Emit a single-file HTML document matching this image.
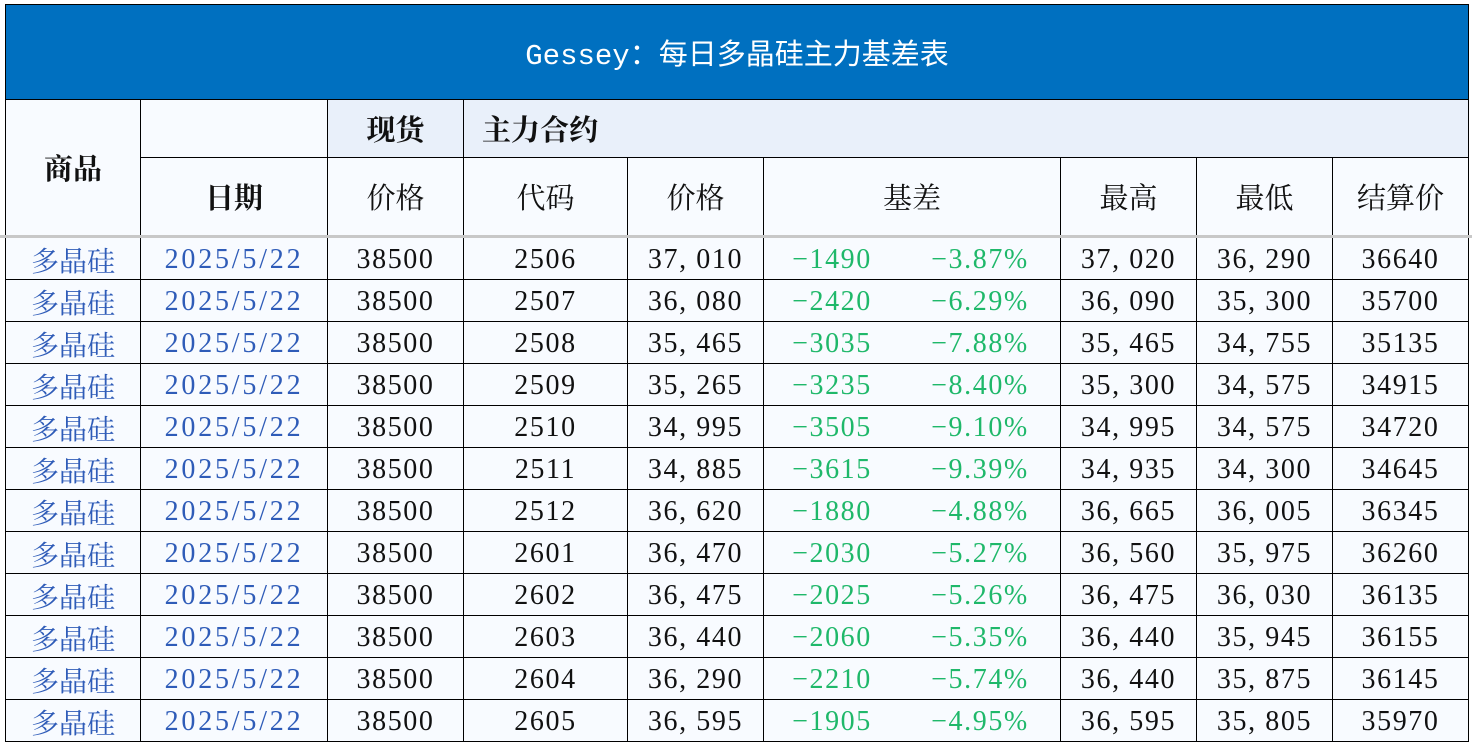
<!DOCTYPE html><html><head><meta charset="utf-8"><style>
body{margin:0;width:1472px;height:742px;background:#fff;position:relative;overflow:hidden;font-family:"Liberation Serif","Noto Serif CJK SC",serif}
.c{position:absolute;box-sizing:border-box;display:flex;align-items:center;justify-content:center;border-right:1px solid #000;border-bottom:1px solid #000;background:#f8fbff;font-size:28px;color:#111;white-space:nowrap;padding-top:2px}
.n{font-size:28px;letter-spacing:1.6px}
.dt{letter-spacing:2.8px}
.b{color:#2f5cb8}.g{color:#1fb86a}
.h{font-size:29px;padding-top:0}
</style></head><body>
<div style="position:absolute;left:5px;top:4px;width:1464px;height:96px;background:#0070c0;border:1px solid #000;box-sizing:border-box;display:flex;align-items:center;justify-content:center;color:#fff;font-size:29px;font-family:'Liberation Mono','Noto Sans CJK SC',monospace">Gessey：每日多晶硅主力基差表</div>
<div class="c h" style="left:5px;top:100px;width:136px;height:136px;border-left:1px solid #000;font-weight:bold">商品</div>
<div class="c" style="left:141px;top:100px;width:187px;height:58px"></div>
<div class="c h" style="left:328px;top:100px;width:136px;height:58px;background:#e9f0fa;font-weight:bold">现货</div>
<div class="c h" style="left:464px;top:100px;width:1005px;height:58px;background:#e9f0fa;font-weight:bold;justify-content:flex-start;padding-left:18px">主力合约</div>
<div class="c h" style="left:141px;top:158px;width:187px;height:78px;font-weight:bold">日期</div>
<div class="c h" style="left:328px;top:158px;width:136px;height:78px">价格</div>
<div class="c h" style="left:464px;top:158px;width:164px;height:78px">代码</div>
<div class="c h" style="left:628px;top:158px;width:136px;height:78px">价格</div>
<div class="c h" style="left:764px;top:158px;width:297px;height:78px">基差</div>
<div class="c h" style="left:1061px;top:158px;width:136px;height:78px">最高</div>
<div class="c h" style="left:1197px;top:158px;width:136px;height:78px">最低</div>
<div class="c h" style="left:1333px;top:158px;width:136px;height:78px">结算价</div>
<div style="position:absolute;left:0;top:235px;width:1472px;height:3px;background:#c8c8c8"></div>
<div id="d"></div>
<script>
var rows=[["2506","37,010","-1490","-3.87%","37,020","36,290","36640"],["2507","36,080","-2420","-6.29%","36,090","35,300","35700"],["2508","35,465","-3035","-7.88%","35,465","34,755","35135"],["2509","35,265","-3235","-8.40%","35,300","34,575","34915"],["2510","34,995","-3505","-9.10%","34,995","34,575","34720"],["2511","34,885","-3615","-9.39%","34,935","34,300","34645"],["2512","36,620","-1880","-4.88%","36,665","36,005","36345"],["2601","36,470","-2030","-5.27%","36,560","35,975","36260"],["2602","36,475","-2025","-5.26%","36,475","36,030","36135"],["2603","36,440","-2060","-5.35%","36,440","35,945","36155"],["2604","36,290","-2210","-5.74%","36,440","35,875","36145"],["2605","36,595","-1905","-4.95%","36,595","35,805","35970"]];
var xs=[5,141,328,464,628,764,900,1061,1197,1333,1469],h="";
function f(s){return s.replace(",",",&nbsp;").replace("-","−");}
rows.forEach(function(r,i){var t=238+42*i;var v=[["多晶硅","b"],["2025/5/22","b n dt"],["38500","n"],[r[0],"n"],[f(r[1]),"n"],[f(r[2]),"g n"],[f(r[3]),"g n"],[f(r[4]),"n"],[f(r[5]),"n"],[r[6],"n"]];
for(var j=0;j<10;j++){h+='<div class="c '+v[j][1]+'" style="left:'+xs[j]+'px;top:'+t+'px;width:'+(xs[j+1]-xs[j])+'px;height:42px;'+(j==0?'border-left:1px solid #000;':'')+(j==5?'border-right:none;':'')+'">'+v[j][0]+'</div>';}});
document.getElementById("d").innerHTML=h;
</script>
</body></html>
